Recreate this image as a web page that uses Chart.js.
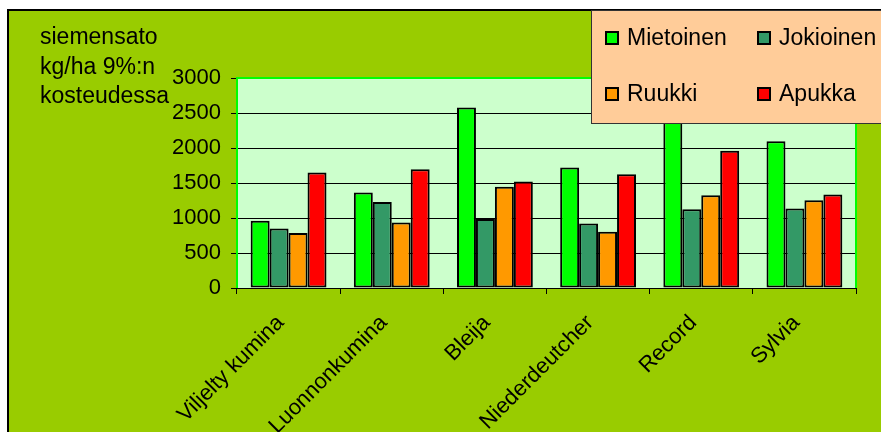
<!DOCTYPE html>
<html>
<head>
<meta charset="utf-8">
<script src="https://cdn.jsdelivr.net/npm/chart.js@4/dist/chart.umd.min.js"></script>
<style>
  html, body { margin: 0; padding: 0; background: #fff; }
  canvas { display: block; }
</style>
</head>
<body>
<canvas id="chart" width="881" height="432"></canvas>
<script>
// data
var categories = ['Viljelty kumina', 'Luonnonkumina', 'Bleija', 'Niederdeutcher', 'Record', 'Sylvia'];
var mietoinen = [960, 1365, 2580, 1720, 2650, 2095];
var jokioinen = [850, 1230, 985, 920, 1125, 1135];
var ruukki = [785, 935, 1445, 805, 1325, 1255];
var apukka = [1650, 1695, 1520, 1625, 1960, 1335];
var yTitle = ['siemensato', 'kg/ha 9%:n', 'kosteudessa'];

var FONT = '"Liberation Sans", Arial, sans-serif';

// frame + plot background
var framePlugin = {
    id: 'frame',
    beforeDraw: function(chart){
        var ctx = chart.ctx;
        var a = chart.chartArea;
        ctx.save();
        ctx.fillStyle = '#ffffff';
        ctx.fillRect(0, 0, chart.width, chart.height);
        ctx.fillStyle = '#99cc00';
        ctx.fillRect(8, 10, chart.width, chart.height);
        ctx.strokeStyle = '#000';
        ctx.lineWidth = 2;
        ctx.beginPath();
        ctx.moveTo(8, chart.height);
        ctx.lineTo(8, 10);
        ctx.lineTo(chart.width, 10);
        ctx.stroke();
        ctx.fillStyle = '#ccffcc';
        ctx.fillRect(a.left, a.top, a.right - a.left, a.bottom - a.top);
        ctx.restore();
    },
    beforeDatasetsDraw: function(chart){
        var ctx = chart.ctx;
        var a = chart.chartArea;
        ctx.save();
        ctx.strokeStyle = '#00ff00';
        ctx.lineWidth = 2;
        ctx.beginPath();
        ctx.moveTo(a.left, a.bottom);
        ctx.lineTo(a.left, a.top);
        ctx.lineTo(a.right, a.top);
        ctx.lineTo(a.right, a.bottom);
        ctx.stroke();
        ctx.restore();
    },
    afterDraw: function(chart){
        var ctx = chart.ctx;
        ctx.save();
        // y axis title, top left
        ctx.font = '23px ' + FONT;
        ctx.fillStyle = '#000';
        ctx.textAlign = 'left';
        ctx.textBaseline = 'alphabetic';
        yTitle.forEach(function(t, i){
            ctx.fillText(t, 40, 44 + i * 29.5);
        });
        // legend box
        ctx.fillStyle = '#ffcc99';
        ctx.fillRect(591, 10, 300, 114);
        ctx.strokeStyle = '#333';
        ctx.lineWidth = 1;
        ctx.strokeRect(591.5, 10.5, 300, 113);
        var cols = [605, 757];
        var rows = [38, 94];
        chart.data.datasets.forEach(function(ds, i){
            var x = cols[i % 2], y = rows[Math.floor(i / 2)];
            ctx.fillStyle = ds.backgroundColor;
            ctx.fillRect(x, y - 7, 14, 14);
            ctx.strokeStyle = '#000';
            ctx.lineWidth = 2;
            ctx.strokeRect(x + 1, y - 6, 12, 12);
            ctx.fillStyle = '#000';
            ctx.textBaseline = 'middle';
            ctx.fillText(ds.label, x + 22, y + 1);
        });
        ctx.restore();
    }
};

var chart = new Chart(document.getElementById('chart'), {
    type: 'bar',
    data: {
        labels: categories,
        datasets: [
            {label: 'Mietoinen', data: mietoinen, backgroundColor: '#00ff00'},
            {label: 'Jokioinen', data: jokioinen, backgroundColor: '#339966'},
            {label: 'Ruukki', data: ruukki, backgroundColor: '#ff9900'},
            {label: 'Apukka', data: apukka, backgroundColor: '#ff0000'}
        ].map(function(d){
            d.borderColor = '#000';
            d.borderWidth = 2;
            d.borderSkipped = false;
            d.categoryPercentage = 0.735;
            d.barPercentage = 1.0;
            return d;
        })
    },
    options: {
        responsive: false,
        devicePixelRatio: 1,
        animation: false,
        layout: {padding: {left: 0, right: 25, top: 78, bottom: 0}},
        plugins: {
            legend: {display: false},
            tooltip: {enabled: false}
        },
        scales: {
            x: {
                grid: {display: true, drawOnChartArea: false, offset: true, color: '#000', tickLength: 6},
                border: {display: true, color: '#000', width: 1},
                ticks: {
                    color: '#000',
                    font: {family: FONT, size: 22},
                    maxRotation: 45,
                    minRotation: 45,
                    padding: 16,
                    labelOffset: -8
                },
                afterFit: function(s){ s.height = 144; }
            },
            y: {
                min: 0,
                max: 3000,
                grid: {color: '#000', tickLength: 6},
                border: {display: true, color: '#000', width: 1},
                ticks: {
                    stepSize: 500,
                    color: '#000',
                    font: {family: FONT, size: 22},
                    padding: 10,
                    callback: function(v){ return String(v); }
                },
                afterFit: function(s){ s.width = 237; }
            }
        }
    },
    plugins: [framePlugin]
});
</script>
</body>
</html>
